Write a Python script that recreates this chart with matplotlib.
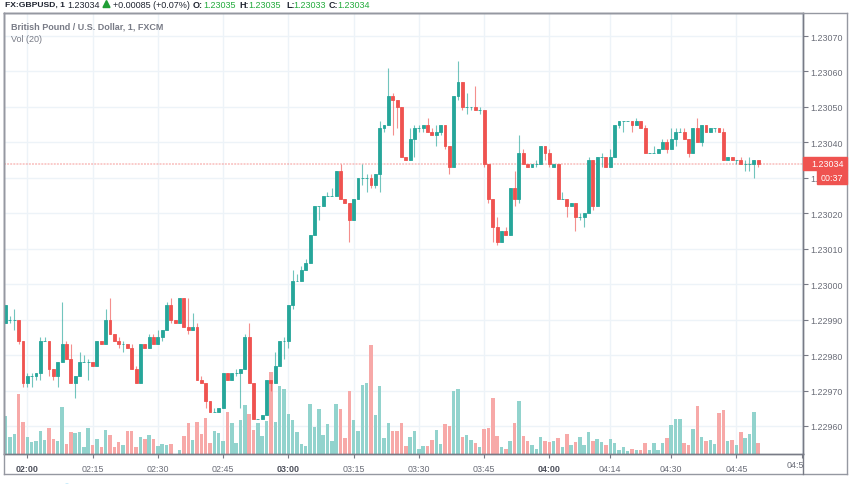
import matplotlib
matplotlib.use("Agg")
import matplotlib.pyplot as plt
from matplotlib.patches import Rectangle, Polygon, Circle
from matplotlib.lines import Line2D

plt.rcParams['font.family'] = ['Liberation Sans', 'DejaVu Sans']

W, H = 852, 485
UP, DOWN = '#26a69a', '#ef5350'
UP_VOL, DOWN_VOL = '#92d3cd', '#f7a9a8'

PRICE_BASE = 1.2296
POINT = 0.00001
first_bar = -5

# values in points above PRICE_BASE, one per one-minute bar
opens = [29,30,30,30,24,12,14,14,15,24,
         24,16,14,18,23,19,12,14,18,18,
         18,17,24,23,30,26,24,23,23,22,
         16,12,23,22,25,23,25,27,34,30,
         29,36,28,27,28,13,12,7,4,4,
         5,15,13,15,15,16,25,12,2,2,
         3,13,12,17,24,24,34,41,41,44,
         46,54,62,62,65,65,65,72,64,63,
         58,64,70,70,70,68,71,84,85,93,
         92,90,76,75,81,84,84,85,83,82,
         83,85,79,73,93,97,90,90,90,89,
         89,74,64,56,52,55,54,67,64,77,
         74,73,74,74,79,77,73,74,64,64,
         62,63,59,59,60,75,62,76,76,73,
         76,85,86,86,86,85,86,84,77,77,
         77,78,80,78,81,83,83,81,77,84,
         80,85,83,84,84,83,75,76,75,75,
         74,74,74,75]
closes = [34,30,30,24,12,14,14,15,24,24,
          16,14,18,23,19,12,14,18,18,18,
          17,24,23,30,26,24,23,23,22,16,
          12,23,22,25,23,25,27,34,30,29,
          36,28,27,28,13,12,7,4,4,5,
          15,13,15,15,16,25,12,2,2,3,
          13,12,17,24,24,34,41,41,44,46,
          54,62,62,65,65,65,72,64,63,58,
          64,70,70,70,68,71,84,85,93,92,
          90,76,75,81,84,84,85,83,82,83,
          85,79,73,93,97,90,90,90,89,89,
          74,64,56,52,55,54,67,64,77,74,
          73,74,74,79,77,74,74,64,64,62,
          63,59,59,60,75,62,76,76,73,76,
          85,86,86,86,85,86,84,77,77,77,
          78,80,78,81,83,83,81,77,84,80,
          85,83,84,84,83,75,76,75,75,74,
          74,74,75,74]
highs = [34,31,33,30,24,15,15,15,25,25,
         24,16,18,35,24,23,14,21,20,19,
         18,24,24,33,36,26,25,24,23,23,
         17,23,23,26,26,27,27,35,36,30,
         36,36,36,32,29,14,12,7,5,5,
         15,15,15,16,16,26,29,12,2,3,
         13,13,21,24,25,34,44,43,45,47,
         54,62,62,65,66,67,72,74,64,63,
         64,70,74,71,71,71,86,85,101,94,
         92,90,76,84,85,85,85,87,84,85,
         85,85,79,93,103,97,94,90,96,90,
         89,74,64,59,55,56,67,72,82,78,
         74,74,75,79,79,78,74,74,66,64,
         63,63,60,60,76,75,76,77,76,78,
         85,86,86,86,86,87,86,85,77,79,
         78,81,81,84,84,84,84,81,84,87,
         85,85,84,84,84,84,76,76,75,76,
         75,76,75,75]
lows = [29,29,27,23,11,11,11,13,13,24,
        14,13,11,18,19,12,8,14,18,13,
        17,17,23,23,26,24,22,21,22,16,
        12,12,22,22,23,23,24,27,29,29,
        29,28,26,27,13,12,5,4,4,4,
        5,13,13,14,5,16,12,2,2,2,
        3,10,12,17,19,22,33,41,41,44,
        46,54,58,62,65,65,65,64,63,52,
        58,64,68,66,67,67,66,83,85,82,
        84,76,75,75,76,83,83,83,82,79,
        82,78,71,73,92,89,88,89,89,88,
        73,63,52,51,52,54,54,62,63,74,
        73,73,73,74,75,73,73,64,64,59,
        62,55,58,56,60,61,62,73,73,73,
        76,84,83,86,83,85,84,77,77,77,
        77,78,77,78,79,83,81,76,77,80,
        79,83,83,83,83,75,75,75,74,74,
        72,72,70,73]
volumes = [115,50,60,181,96,51,36,38,68,43,
           77,44,38,142,31,66,62,66,21,79,
           27,44,22,73,58,20,36,27,68,68,
           20,51,46,58,44,25,29,27,31,0,
           13,55,92,42,96,59,109,34,68,63,
           38,125,93,34,101,147,121,73,93,53,
           99,246,96,205,195,120,101,65,29,23,
           149,81,135,57,90,38,151,136,47,190,
           101,70,207,212,327,118,205,49,94,68,
           70,94,23,51,70,16,25,25,42,73,
           29,90,83,190,194,51,57,42,33,21,
           75,77,168,53,21,16,38,94,160,53,
           40,27,14,51,40,36,40,47,21,61,
           28,37,52,26,67,39,45,37,26,45,
           34,13,21,8,15,13,13,32,13,34,
           11,32,47,86,104,104,32,26,76,145,
           52,39,43,30,124,132,39,41,26,67,
           47,61,126,32]

time_positions = [0, 15, 30, 45, 60, 75, 90, 105, 120, 134, 148, 163, 178]
time_labels = ['02:00', '02:15', '02:30', '02:45', '03:00', '03:15', '03:30',
               '03:45', '04:00', '04:14', '04:30', '04:45', '']
bold_times = {'02:00', '03:00', '04:00'}
price_ticks = [1.2296, 1.2297, 1.2298, 1.2299, 1.2300, 1.2301, 1.2302, 1.2303,
               1.2304, 1.2305, 1.2306, 1.2307]
price_labels = ['1.22960', '1.22970', '1.22980', '1.22990', '1.23000', '1.23010',
                '1.23020', '1.', '1.23040', '1.23050', '1.23060', '1.23070']
last_price = 1.23034

bars = [first_bar + k for k in range(len(opens))]
to_price = lambda pts: [PRICE_BASE + p * POINT for p in pts]
O, C, Hi, Lo = to_price(opens), to_price(closes), to_price(highs), to_price(lows)
is_up = [c >= o for o, c in zip(opens, closes)]

AXIS_FS = 6.4
HEAD_FS = 6.5

fig = plt.figure(figsize=(W / 100, H / 100), dpi=100, facecolor='white')
pane = [4 / W, 1 - 455 / H, (803 - 4) / W, (455 - 14) / H]

vol = fig.add_axes(pane, zorder=1)
ax = vol.twinx()
ax.set_zorder(2)
ax.patch.set_visible(False)

vol.set_xlim(-5.356, 178.3)
vol.set_ylim(0, 1323)
ax.set_ylim(PRICE_BASE - 7.9 * POINT, PRICE_BASE + 116.5 * POINT)

GRID = '#edf3f8'
vol.set_xticks(time_positions)
vol.set_xticklabels(time_labels)
vol.grid(axis='x', color=GRID, lw=1)
vol.set_axisbelow(True)
vol.hlines(price_ticks, 0, 1, transform=ax.get_yaxis_transform(), color=GRID, lw=1, zorder=0.5)
vol.set_yticks([])
vol.tick_params(axis='x', length=3, width=0.8, color='#787b86', labelsize=AXIS_FS,
                labelcolor='#6a6d78', pad=4)
for lab in vol.get_xticklabels():
    if lab.get_text() in bold_times:
        lab.set_fontweight('bold')
        lab.set_color('#4c4f5a')

vol.bar(bars, volumes, width=0.8, color=[UP_VOL if u else DOWN_VOL for u in is_up], zorder=2)

ax.axhline(last_price, color='#ef5350', alpha=0.3, lw=1.4, ls=(0, (1, 0.6)), zorder=1)
wick_colors = [UP if u else DOWN for u in is_up]
ax.vlines(bars, Lo, Hi, colors=wick_colors, lw=0.8, alpha=0.65, zorder=3)
bottoms = [min(o, c) for o, c in zip(O, C)]
heights = [abs(o - c) for o, c in zip(O, C)]
ax.bar(bars, heights, bottom=bottoms, width=0.66, color=wick_colors,
       edgecolor=wick_colors, lw=0.6, zorder=4)

ax.set_yticks(price_ticks)
ax.set_yticklabels(price_labels)
ax.tick_params(axis='y', length=3.6, width=0.8, color='#787b86', labelsize=AXIS_FS,
               labelcolor='#6a6d78', pad=2)

for a in (vol, ax):
    a.spines['top'].set_color('#9598a1')
    a.spines['left'].set_color('#9598a1')
    a.spines['right'].set_color('#787b86')
    a.spines['bottom'].set_color('#787b86')
    for s in a.spines.values():
        s.set_linewidth(1)


def tx(x, y, s, **kw):
    kw.setdefault('fontsize', AXIS_FS)
    kw.setdefault('va', 'center')
    kw.setdefault('zorder', 8)
    return fig.text(x / W, 1 - y / H, s, **kw)


# outer frame of the chart widget
frame = '#9598a1'
for xs, ys in [((4, 847), (14, 14)), ((847, 847), (14, 475)), ((4, 847), (475, 475)), ((4, 4), (14, 475))]:
    fig.add_artist(Line2D([x / W for x in xs], [1 - y / H for y in ys], color=frame, lw=1, zorder=3))
fig.add_artist(Line2D([803 / W] * 2, [1 - 455 / H, 1 - 475 / H], color='#787b86', lw=1, zorder=3))

# price and countdown tags
fig.add_artist(Rectangle((803 / W, 1 - 171 / H), 44 / W, 13 / H, transform=fig.transFigure,
                         color=DOWN, zorder=5))
fig.add_artist(Rectangle((817 / W, 1 - 185 / H), 30 / W, 14 / H, transform=fig.transFigure,
                         color=DOWN, zorder=5))
tx(811, 164.7, '1.23034', color='white')
tx(820.5, 178.5, '00:37', color='white')

tx(786.5, 466, '04:5', color='#6a6d78')

# header row
BLK, GRN = '#1f2430', '#22ab3c'
tx(5, 5, 'FX:GBPUSD, 1', fontweight='bold', color=BLK, fontsize=HEAD_FS - 0.4)
tx(67, 5, '1.23034', color=BLK, fontsize=HEAD_FS)
fig.add_artist(Polygon([(103 / W, 1 - 8.5 / H), (110 / W, 1 - 8.5 / H), (106.5 / W, 1 - 1.5 / H)],
                       closed=True, transform=fig.transFigure, color='#1f9e35', zorder=8))
tx(113, 5, '+0.00085 (+0.07%)', color=BLK, fontsize=HEAD_FS)
for lx, lab, vx, val in [(193, 'O:', 203, '1.23035'), (239, 'H:', 248, '1.23035'),
                         (286, 'L:', 293, '1.23033'), (329, 'C:', 337, '1.23034')]:
    tx(lx, 5, lab, fontweight='bold', color=BLK, fontsize=HEAD_FS)
    tx(vx, 5, val, color=GRN, fontsize=HEAD_FS)

# pane legend
tx(11, 27, 'British Pound / U.S. Dollar, 1, FXCM', fontweight='bold', color='#787b86', fontsize=HEAD_FS)
tx(11, 39.5, 'Vol (20)', color='#787b86', fontsize=HEAD_FS)

# sliver of a logo at the bottom edge
fig.add_artist(Circle((67 / W, 1 - 488 / H), 4.5 / W, transform=fig.transFigure, color='#35b4ee', zorder=3))

fig.savefig('out.png', dpi=100)
